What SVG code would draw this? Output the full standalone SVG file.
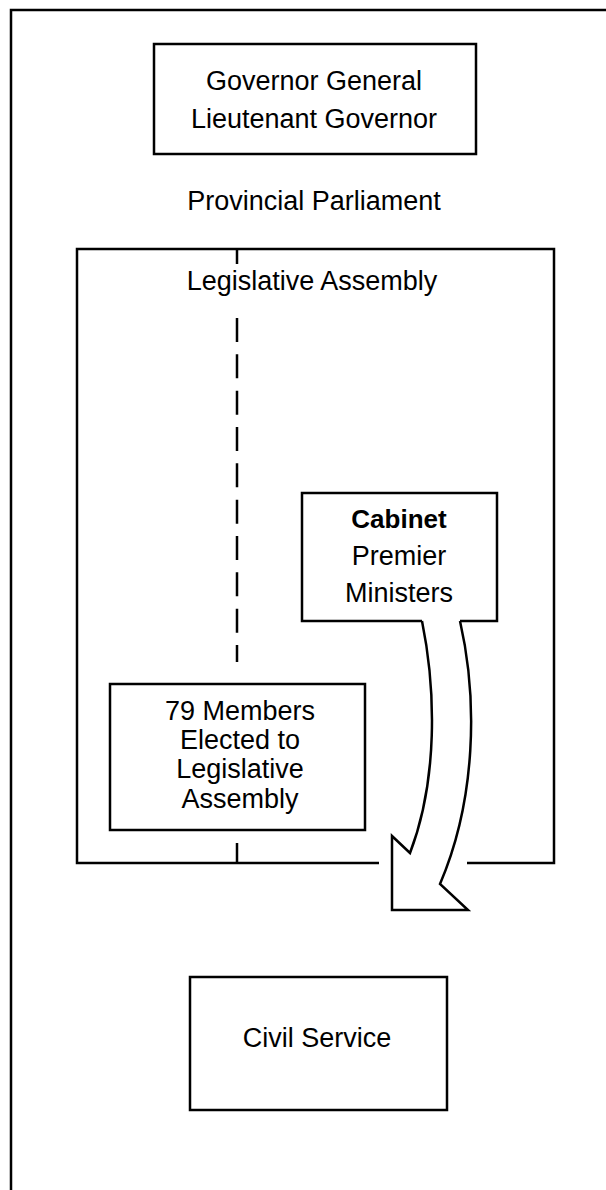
<svg xmlns="http://www.w3.org/2000/svg" width="606" height="1190" viewBox="0 0 606 1190">
<style>
.ln{fill:none;stroke:#000;stroke-width:2.5;stroke-linecap:butt;stroke-linejoin:miter}
.bx{fill:#fff;stroke:#000;stroke-width:2.5}
.t{font-family:"Liberation Sans",Arial,Helvetica,sans-serif;font-size:27px;fill:#000;text-anchor:middle}
.b{font-weight:bold;font-size:26px}
</style>
<rect width="606" height="1190" fill="#fff"/>
<g id="frame">
<path class="ln" d="M11,1190 V10 H606"/>
</g>
<g id="governor">
<rect class="bx" x="154" y="44" width="322" height="110"/>
<text class="t" x="314" y="90">Governor General</text>
<text class="t" x="314" y="128">Lieutenant Governor</text>
</g>
<g id="parliament">
<text class="t" x="314" y="210">Provincial Parliament</text>
</g>
<g id="legislative-assembly">
<path class="ln" d="M379,863 H77 V249 H554 V863 H467"/>
<text class="t" x="312" y="290">Legislative Assembly</text>
</g>
<g id="connectors">
<line class="ln" x1="237" y1="249" x2="237" y2="264"/>
<line class="ln" x1="237" y1="318" x2="237" y2="662" stroke-dasharray="24 12.33"/>
<line class="ln" x1="237" y1="843" x2="237" y2="863"/>
<path class="ln" fill="#fff" style="fill:#fff" d="M422,621 C436,690 438,780 410,853 L392,836 L392,910 L468,910 L440,884 C476,800 478,700 460,621"/>
</g>
<g id="cabinet">
<path class="ln" d="M422,621 H302 V493 H497 V621 H460"/>
<text class="t b" x="399" y="528">Cabinet</text>
<text class="t" x="399" y="565">Premier</text>
<text class="t" x="399" y="602">Ministers</text>
</g>
<g id="members">
<rect class="bx" x="110" y="684" width="255" height="146"/>
<text class="t" x="240" y="720">79 Members</text>
<text class="t" x="240" y="749">Elected to</text>
<text class="t" x="240" y="778">Legislative</text>
<text class="t" x="240" y="808">Assembly</text>
</g>
<g id="civil-service">
<rect class="bx" x="190" y="977" width="257" height="133"/>
<text class="t" x="317" y="1047">Civil Service</text>
</g>
</svg>
